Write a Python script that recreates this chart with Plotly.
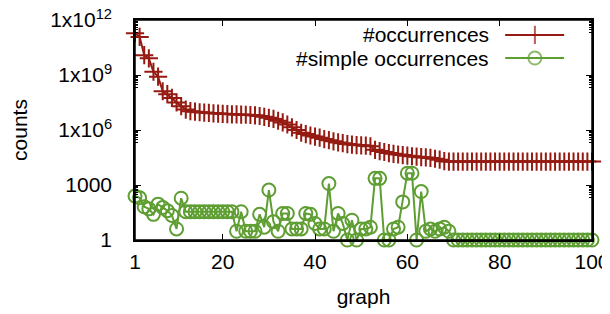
import plotly.graph_objects as go

graph = list(range(1, 101))

occurrences = [
    1.9e11, 1.2e11, 1.2e10, 8.1e9, 1.5e9, 8.1e8, 1.3e8, 9.0e7, 5.6e7, 3.2e7,
    2.0e7, 1.3e7, 1.07e7, 1.0e7, 9.3e6, 8.9e6, 8.5e6, 8.1e6, 7.9e6, 7.6e6,
    7.4e6, 7.2e6, 7.1e6, 6.9e6, 6.8e6, 6.6e6, 6.3e6, 5.8e6, 5.2e6, 4.6e6,
    4.0e6, 3.2e6, 2.6e6, 2.0e6, 1.4e6, 1.0e6, 7.1e5, 6.0e5, 5.0e5, 4.4e5,
    3.8e5, 3.2e5, 2.8e5, 2.4e5, 2.1e5, 1.9e5, 1.7e5, 1.6e5, 1.5e5, 1.45e5,
    1.4e5, 1.3e5, 8.3e4, 7.1e4, 6.3e4, 5.5e4, 5.0e4, 4.6e4, 4.3e4, 4.0e4,
    3.7e4, 3.5e4, 3.3e4, 3.2e4, 3.0e4, 2.7e4, 2.4e4, 2.0e4, 1.9e4, 1.9e4,
    1.9e4, 1.9e4, 1.9e4, 1.9e4, 1.9e4, 1.9e4, 1.9e4, 1.9e4, 1.9e4, 1.9e4,
    1.9e4, 1.9e4, 1.9e4, 1.9e4, 1.9e4, 1.9e4, 1.9e4, 1.9e4, 1.9e4, 1.9e4,
    1.9e4, 1.9e4, 1.9e4, 1.9e4, 1.9e4, 1.9e4, 1.9e4, 1.9e4, 1.9e4, 1.9e4,
]

simple_occurrences = [
    250, 200, 65, 50, 25, 90, 60, 40, 22, 4,
    190, 35, 35, 35, 35, 35, 35, 35, 35, 35,
    35, 35, 3, 35, 3, 3, 3, 25, 5, 530,
    10, 3, 28, 28, 4, 4, 4, 28, 25, 8,
    4, 4, 1200, 3, 28, 8, 1, 12, 1, 4,
    4, 5, 2300, 2300, 1, 1, 4, 5, 120, 4400,
    4400, 1, 440, 3, 4, 3, 4, 5, 3, 1,
    1, 1, 1, 1, 1, 1, 1, 1, 1, 1,
    1, 1, 1, 1, 1, 1, 1, 1, 1, 1,
    1, 1, 1, 1, 1, 1, 1, 1, 1, 1,
]

series_names = ["#occurrences", "#simple occurrences"]
x_ticks = [1, 20, 40, 60, 80, 100]
y_ticks = [1, 1000, 1e6, 1e9, 1e12]
y_tick_text = ["1", "1000", "1x10<sup>6</sup>", "1x10<sup>9</sup>", "1x10<sup>12</sup>"]

RED = "#951b12"
GREEN = "#5e9e32"
FONT = "Liberation Sans, Arial, sans-serif"
FS = 21

# minor log ticks (2..9 x 10^(k-1)) just below each major tick
minor_vals = []
for major in y_ticks:
    for m in range(2, 10):
        v = m * major / 10
        if 1 <= v <= 1e12:
            minor_vals.append(v)

fig = go.Figure()
fig.add_trace(go.Scatter(
    x=graph, y=simple_occurrences, mode="lines+markers", name=series_names[1],
    line=dict(color=GREEN, width=2),
    marker=dict(symbol="circle-open", size=13, color=GREEN, line=dict(width=2, color=GREEN)),
    cliponaxis=False, showlegend=False,
))
fig.add_trace(go.Scatter(
    x=graph, y=occurrences, mode="lines", name=series_names[0],
    line=dict(color=RED, width=2),
    showlegend=False, cliponaxis=False,
))
fig.add_trace(go.Scatter(
    x=graph, y=occurrences, mode="markers",
    marker=dict(symbol="cross-thin-open", size=13, color=RED, line=dict(width=2, color=RED)),
    showlegend=False, cliponaxis=False, hoverinfo="skip",
))

# custom legend (gnuplot style: text right-aligned, key sample to the right)
leg_frac_y = [0.932, 0.827]          # fraction of plot height
leg_frac_x = [0.81, 0.875, 0.939]    # fraction of plot width for sample line
x_lo, x_hi = 1, 100
y_lo_exp, y_hi_exp = 0, 12
for name, col, sym, fy in [(series_names[0], RED, "cross-thin-open", leg_frac_y[0]),
                           (series_names[1], GREEN, "circle-open", leg_frac_y[1])]:
    xs = [x_lo + f * (x_hi - x_lo) for f in leg_frac_x]
    yv = 10 ** (y_lo_exp + fy * (y_hi_exp - y_lo_exp))
    fig.add_trace(go.Scatter(
        x=xs, y=[yv] * 3, mode="lines+markers",
        line=dict(color=col, width=2),
        marker=dict(symbol=sym, size=[0, 13, 0], color=col, line=dict(width=2, color=col)),
        showlegend=False, hoverinfo="skip",
    ))
    fig.add_annotation(x=0.779, y=fy, xref="paper", yref="paper", text=name, showarrow=False,
                       xanchor="right", yanchor="middle",
                       font=dict(family=FONT, size=FS, color="black"))

# plot frame (gnuplot border)
fig.add_shape(type="rect", xref="paper", yref="paper", x0=0, x1=1, y0=0, y1=1,
              line=dict(color="black", width=1.5), layer="above")

# page body has an 8px default margin, so the figure is 8px smaller than the window
fig.update_layout(
    width=602, height=306,
    margin=dict(l=127, r=18, t=12, b=74, autoexpand=False),
    paper_bgcolor="white", plot_bgcolor="white",
    font=dict(family=FONT, size=FS, color="black"),
    showlegend=False,
    xaxis=dict(
        range=[x_lo, x_hi], tickvals=x_ticks, ticks="inside", ticklen=6, tickwidth=1,
        tickcolor="black", showline=True, linecolor="black", linewidth=1.5, mirror="allticks",
        showgrid=False, zeroline=False, ticklabeloverflow="allow",
        title=dict(text="graph", standoff=17, font=dict(size=FS)),
        tickfont=dict(size=FS), ticklabelstandoff=2,
    ),
    yaxis=dict(
        type="log", range=[y_lo_exp, y_hi_exp], tickvals=y_ticks, ticktext=y_tick_text,
        ticks="inside", ticklen=6, tickwidth=1, tickcolor="black",
        showline=True, linecolor="black", linewidth=1.5, mirror="allticks",
        showgrid=False, zeroline=False, ticklabeloverflow="allow",
        minor=dict(tickvals=minor_vals, ticks="inside", ticklen=3, tickcolor="black", tickwidth=1),
        title=dict(text="counts", standoff=26, font=dict(size=FS)),
        tickfont=dict(size=FS), ticklabelstandoff=17,
    ),
)

fig.write_html("out.html")
